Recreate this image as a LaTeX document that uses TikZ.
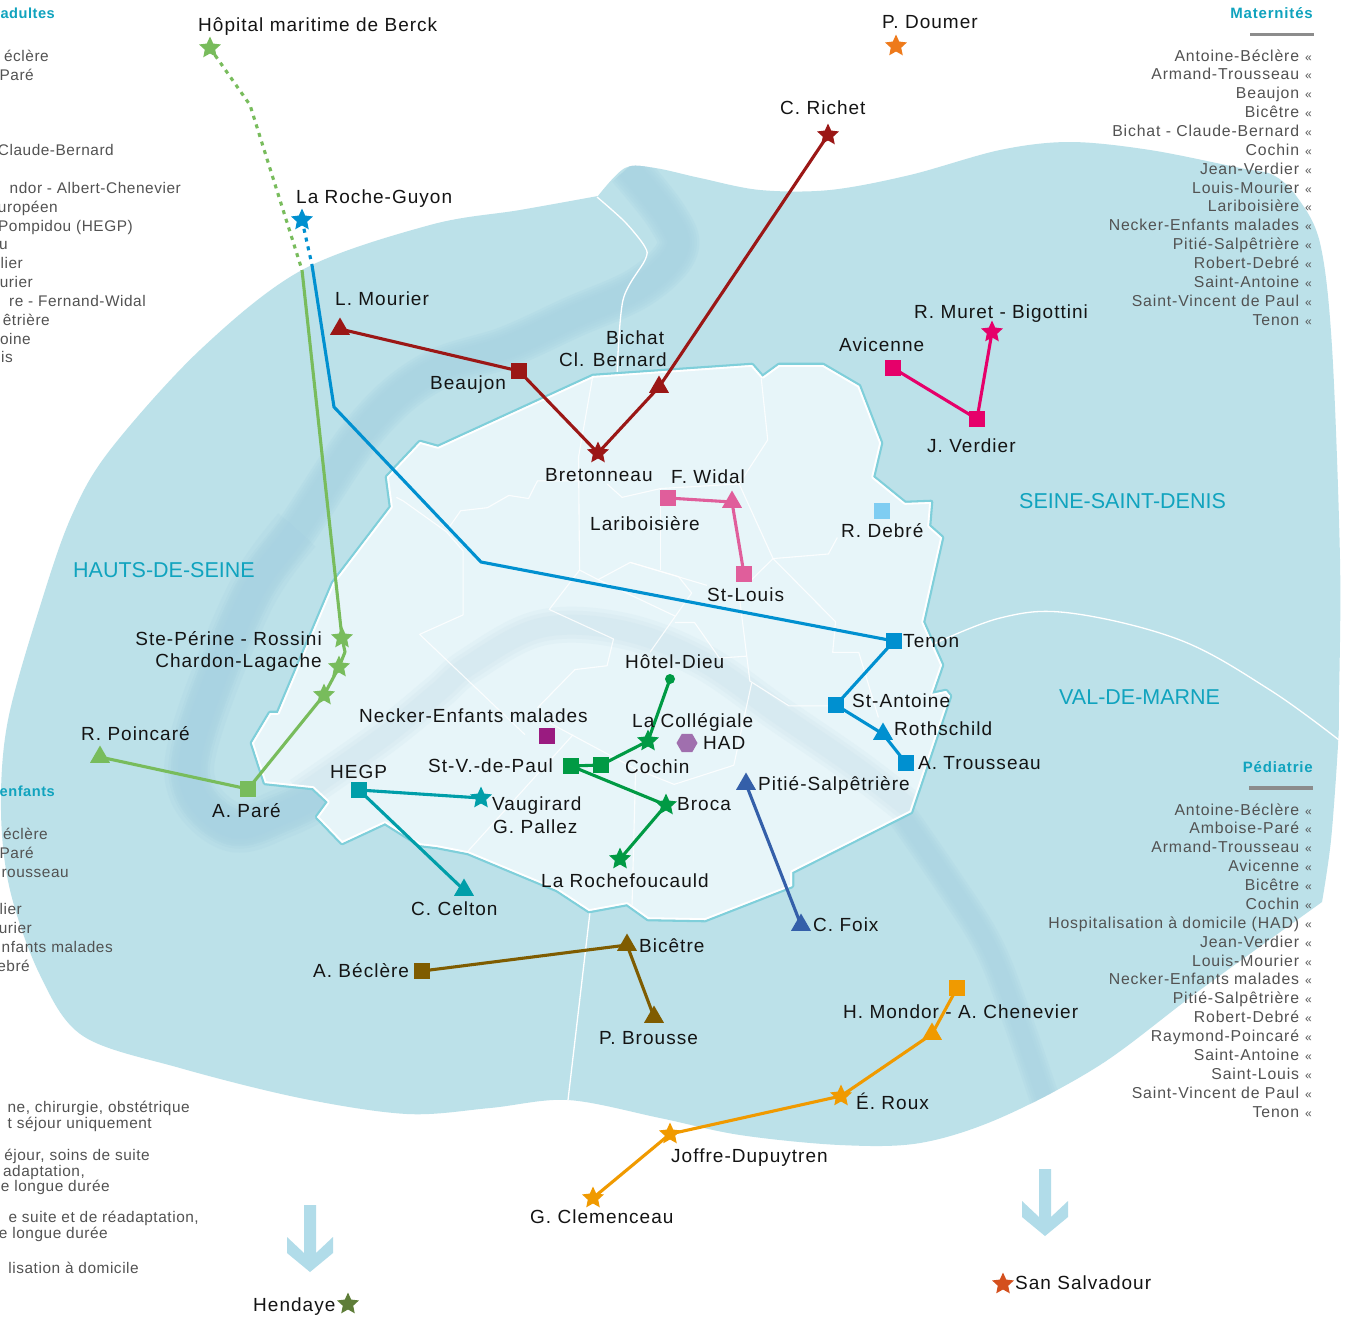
\documentclass[tikz,border=0pt]{standalone}
\usepackage{fontspec}
\usetikzlibrary{shapes.geometric}
\setmainfont{Liberation Sans}
\newfontfamily\lblfam[LetterSpace=5.4]{Liberation Sans}
\newfontfamily\lstfam[LetterSpace=5.5]{Liberation Sans}
\newfontfamily\lsfam[LetterSpace=3.6]{Liberation Sans}
\newfontfamily\depfam{Liberation Sans}
\definecolor{land}{HTML}{BCE1E9}
\definecolor{riverc}{HTML}{A9D3E2}
\definecolor{riverp}{HTML}{BCD8E6}
\definecolor{parisc}{HTML}{E7F5F9}
\definecolor{parisb}{HTML}{7FCFDA}
\definecolor{teal1}{HTML}{10A3BE}
\definecolor{cGreen}{HTML}{78BC5C}
\definecolor{cBlue}{HTML}{0090D0}
\definecolor{cRed}{HTML}{9B1716}
\definecolor{cOrange}{HTML}{EE7A1B}
\definecolor{cPink}{HTML}{E6006A}
\definecolor{cRose}{HTML}{E05E9B}
\definecolor{cSky}{HTML}{7FCDF2}
\definecolor{cForest}{HTML}{009A44}
\definecolor{cPurple}{HTML}{9A1B80}
\definecolor{cMauve}{HTML}{A06FAE}
\definecolor{cTeal}{HTML}{009EA9}
\definecolor{cNavy}{HTML}{345FA9}
\definecolor{cBrown}{HTML}{7F5C00}
\definecolor{cAmber}{HTML}{F09A00}
\definecolor{cRust}{HTML}{D4501E}
\definecolor{cOlive}{HTML}{5E7D38}
\definecolor{arrowc}{HTML}{B1DCE9}
\tikzset{
  sq/.style={rectangle,fill=#1,draw=none,minimum size=16pt,inner sep=0pt},
  tri/.style={regular polygon,regular polygon sides=3,fill=#1,draw=none,minimum size=23pt,inner sep=0pt},
  st/.style={star,star points=5,star point ratio=2.1,fill=#1,draw=none,minimum size=23pt,inner sep=0pt},
  hexa/.style={regular polygon,regular polygon sides=6,fill=#1,draw=none,minimum size=21pt,inner sep=0pt},
  dot/.style={circle,fill=#1,draw=none,minimum size=10pt,inner sep=0pt},
  lbl/.style={anchor=base west,inner sep=0pt,text=black!92,font=\lblfam\fontsize{19}{21}\selectfont},
  lblr/.style={lbl,anchor=base east},
  dept/.style={anchor=base west,inner sep=0pt,text=teal1,font=\depfam\fontsize{21.5}{24}\selectfont},
  head/.style={anchor=base east,inner sep=0pt,text=teal1,font=\lstfam\bfseries\fontsize{15}{16}\selectfont},
  headl/.style={anchor=base east,inner sep=0pt,text=teal1,font=\lsfam\bfseries\fontsize{14.6}{16}\selectfont},
  lst/.style={anchor=base east,inner sep=0pt,text=black!68,font=\lstfam\fontsize{15.8}{17}\selectfont},
  lstl/.style={anchor=base east,inner sep=0pt,text=black!68,font=\lsfam\fontsize{15.4}{17}\selectfont},
  link/.style={line width=3.1pt,color=#1,line join=round},
  white line/.style={line width=1.3pt,color=white,line join=round},
  inner line/.style={line width=1.1pt,color=white,line join=round,opacity=.85},
  bar/.style={fill=black!45,draw=none},
}
\newcommand{\laquo}{{\fontsize{12}{12}\selectfont «}}
\def\regionpath{
  plot[smooth,tension=.55] coordinates {(598,196)(625,168)(655,168)(700,178)(760,190)(830,190)(910,175)(1000,150)(1070,142)(1150,150)(1240,168)(1273,175)(1297,197)(1320,243)(1332,347)(1340,560)(1339,700)(1338,745)(1331,840)(1322,902)}
  -- plot[smooth,tension=.55] coordinates {(1322,902)(1200,990)(1100,1065)(1000,1118)(920,1143)(840,1145)(740,1135)(660,1118)(568,1100)(490,1108)(407,1114)(300,1098)(180,1068)(83,1036)(40,975)(10,890)(1,810)(8,720)(42,600)(72,515)(110,450)(200,350)(302,270)(430,225)(520,210)(598,196)}
  -- cycle}
\def\parispath{
  (593,376)--(752,365)--(762.5,377)--(779,365)--(823,365)--(859,386)--(881,443)--(873,477)--(905,503)--(931,502)--(929,526)--(942,537.5)--(923,622)--(942,665)--(932,694)--(946,691)--(950,696)--(911,812)--(792,872)--(792,886)--(705,920)--(648,919)--(627,904)--(589,911)--(557,890)--(468,853)--(437,847)--(420,845)--(385,823)--(342,843)--(317,817)--(328,802)--(313,788)--(265,783)--(252,743)--(270,713)--(278,713)--(333,583)--(391,507)--(387,477)--(420,442)--(438,447)--cycle}
\begin{document}
\begin{tikzpicture}[x=1pt,y=-1pt]
\useasboundingbox (0,0) rectangle (1351,1320);
\clip (0,0) rectangle (1351,1320);
\fill[white] (0,0) rectangle (1351,1320);
% land
\fill[land] \regionpath;
% river outside Paris
\begin{scope}
\clip \regionpath;
\foreach \w in {42,37,32,27,22}{
\draw[riverc,opacity=.28,line width=\w pt,line join=round] plot[smooth,tension=.6] coordinates {(628,168)(667,217)(677,250)(640,287)(573,317)(507,347)(430,373)(367,427)(297,530)(250,597)(197,730)(193,790)(233,827)(283,813)(330,790)};
}
\foreach \w in {50,36}{
\draw[riverc,opacity=.22,line width=\w pt,line join=round] plot[smooth,tension=.6] coordinates {(297,530)(250,597)(197,730)(193,790)(233,827)(283,813)(330,790)};
}
\foreach \w in {30,25,20,15}{
\draw[riverc,opacity=.25,line width=\w pt] plot[smooth,tension=.6] coordinates {(895,805)(947,880)(987,943)(1013,1007)(1045,1100)};
}
\end{scope}
% commune boundaries outside Paris
\draw[white line] plot[smooth,tension=.5] coordinates {(597,197)(625,222)(645,247)(645,260)(623,300)(617,376)};
\draw[white line] plot[smooth,tension=.6] coordinates {(925,648)(1000,618)(1070,613)(1180,640)(1270,690)(1339,740)};
\draw[white line] (590,912)--(568,1100);
% Paris
\draw[line width=4.6pt,parisb,line join=round] \parispath;
\fill[parisc] \parispath;
\begin{scope}
\clip \parispath;
\foreach \w in {36,28,20}{
\draw[riverp,opacity=.13,line width=\w pt,line join=round] plot[smooth,tension=.6] coordinates {(300,795)(383,737)(437,693)(470,665)(540,628)(620,630)(700,660)(780,715)(860,770)(930,825)};
}
\end{scope}
% arrondissements
\begin{scope}[shift={(400,350)},x=0.357pt,y=-0.3827pt]
\draw[inner line] (540,68)--(500,280)--(503,575)--(555,600)--(645,555)--(780,592)--(817,635)--(700,790);
\draw[inner line] (503,575)--(418,678)--(598,755)--(580,825)--(490,835)--(385,935);
\draw[inner line] (555,600)--(770,695);
\draw[inner line] (770,712)--(825,712)--(895,805)--(970,800);
\draw[inner line] (645,555)--(860,615);
\draw[inner line] (950,640)--(980,865)--(1090,930)--(1200,930);
\draw[inner line] (985,870)--(935,1085)--(768,1135)--(660,1095)--(420,975);
\draw[inner line] (660,1095)--(650,1450);
\draw[inner line] (-10,385)--(10,395)--(130,475)--(177,525)--(177,692)--(55,743)--(350,1005);
\draw[inner line] (485,1005)--(190,1310);
\draw[inner line] (140,460)--(170,420)--(245,412)--(305,380)--(360,388)--(385,342)--(500,342);
\draw[inner line] (580,350)--(622,385)--(730,362)--(950,350);
\draw[inner line] (730,362)--(730,575);
\draw[inner line] (950,350)--(1030,235)--(1012,75);
\draw[inner line] (950,350)--(1045,545)--(1220,710)--(1212,790)--(1285,790)--(1340,960);
\draw[inner line] (1045,545)--(1200,533)--(1225,490);
\draw[inner line] (1045,545)--(985,600);
\end{scope}
\begin{scope}
\clip \parispath;
\draw[line width=3.6pt,white,line join=round] \parispath;
\end{scope}
% big down arrows
\foreach \n/\dx/\dy in {arrA/0/0,arrB/735/-36}{
\fill[arrowc,shift={(\dx,\dy)}] (304,1205)--(316,1205)--(316,1253)--(333,1237)--(333,1253)--(310,1272)--(287,1253)--(287,1237)--(304,1253)--cycle;
}
% department labels
\node[dept] (dSSD) at (1019,508) {SEINE-SAINT-DENIS};
\node[dept] (dHDS) at (73,577) {HAUTS-DE-SEINE};
\node[dept] (dVDM) at (1059,704) {VAL-DE-MARNE};
% markers
\node[st=cGreen] (berck) at (210,48) {};
\coordinate (gA) at (250,105);
\coordinate (gB) at (302,270);
\node[st=cGreen] (perine) at (342,638) {};
\coordinate (gC) at (345,652);
\node[st=cGreen] (chardon) at (339,667) {};
\node[st=cGreen] (gstar) at (324,695) {};
\node[sq=cGreen] (pare) at (248,789) {};
\node[tri=cGreen] (poincare) at (100,757) {};
\node[st=cBlue] (roche) at (302,220) {};
\coordinate (bA) at (312,265);
\coordinate (bB) at (334,407);
\coordinate (bC) at (481,562);
\node[sq=cBlue] (tenon) at (894,641) {};
\node[sq=cBlue] (antoine) at (836,705) {};
\node[tri=cBlue] (rothschild) at (883,734) {};
\node[sq=cBlue] (trousseau) at (906,763) {};
\node[tri=cRed] (mourier) at (340,329) {};
\node[sq=cRed] (beaujon) at (519,371) {};
\node[st=cRed] (bretonneau) at (598,453) {};
\node[tri=cRed] (bernard) at (659,387) {};
\node[st=cRed] (richet) at (828,135) {};
\node[st=cOrange] (doumer) at (896,46) {};
\node[sq=cPink] (avicenne) at (893,368) {};
\node[sq=cPink] (verdier) at (977,419) {};
\node[st=cPink] (muret) at (992,332) {};
\node[sq=cRose] (lariboisiere) at (668,498) {};
\node[tri=cRose] (widal) at (732,502) {};
\node[sq=cRose] (stlouis) at (744,574) {};
\node[sq=cSky] (debre) at (882,511) {};
\node[dot=cForest] (hoteldieu) at (670,679) {};
\node[st=cForest] (collegiale) at (648,741) {};
\node[sq=cForest] (cochin) at (601,765) {};
\node[sq=cForest] (stv) at (571,766) {};
\node[st=cForest] (broca) at (666,805) {};
\node[st=cForest] (rochefoucauld) at (620,859) {};
\node[sq=cPurple] (necker) at (547,736) {};
\node[hexa=cMauve] (had) at (687,743) {};
\node[sq=cTeal] (hegp) at (359,790) {};
\node[st=cTeal] (vaugirard) at (481,798) {};
\node[tri=cTeal] (celton) at (464,890) {};
\node[tri=cNavy] (pitie) at (746,784) {};
\node[tri=cNavy] (foix) at (801,925) {};
\node[sq=cBrown] (beclere) at (422,971) {};
\node[tri=cBrown] (bicetre) at (627,945) {};
\node[tri=cBrown] (brousse) at (654,1017) {};
\node[sq=cAmber] (chenevier) at (957,988) {};
\node[tri=cAmber] (mondor) at (932,1034) {};
\node[st=cAmber] (roux) at (841,1096) {};
\node[st=cAmber] (joffre) at (670,1134) {};
\node[st=cAmber] (clemenceau) at (593,1198) {};
\node[st=cRust] (salvadour) at (1003,1284) {};
\node[st=cOlive] (hendaye) at (348,1304) {};
% connectors
\draw[link=cGreen,dash pattern=on 4pt off 5pt] (berck.center)--(gA)--(gB);
\draw[link=cGreen] (gB)--(perine.center)--(gC)--(chardon.center)--(gstar.center)--(pare.center)--(poincare.center);
\draw[link=cBlue,dash pattern=on 4pt off 5pt] (roche.center)--(bA);
\draw[link=cBlue] (bA)--(bB)--(bC)--(tenon.center)--(antoine.center)--(rothschild.center)--(trousseau.center);
\draw[link=cRed] (mourier.center)--(beaujon.center)--(bretonneau.center)--(bernard.center)--(richet.center);
\draw[link=cPink] (avicenne.center)--(verdier.center)--(muret.center);
\draw[link=cRose] (lariboisiere.center)--(widal.center)--(stlouis.center);
\draw[link=cForest] (hoteldieu.center)--(collegiale.center)--(cochin.center)--(stv.center)--(broca.center)--(rochefoucauld.center);
\draw[link=cTeal] (vaugirard.center)--(hegp.center)--(celton.center);
\draw[link=cNavy] (pitie.center)--(foix.center);
\draw[link=cBrown] (beclere.center)--(bicetre.center)--(brousse.center);
\draw[link=cAmber] (chenevier.center)--(mondor.center)--(roux.center)--(joffre.center)--(clemenceau.center);
% labels
\node[lbl] (lBerck) at (198,31) {Hôpital maritime de Berck};
\node[lbl] (lDoumer) at (882,28) {P. Doumer};
\node[lbl] (lRichet) at (780,114) {C. Richet};
\node[lbl] (lRoche) at (296,203) {La Roche-Guyon};
\node[lbl] (lMourier) at (335,305) {L. Mourier};
\node[lbl] (lMuret) at (914,318) {R. Muret - Bigottini};
\node[lbl] (lAvicenne) at (839,351) {Avicenne};
\node[lbl] (lBichat) at (606,344) {Bichat};
\node[lbl] (lBernard) at (559,366) {Cl. Bernard};
\node[lbl] (lBeaujon) at (430,389) {Beaujon};
\node[lbl] (lVerdier) at (927,452) {J. Verdier};
\node[lbl] (lBretonneau) at (545,481) {Bretonneau};
\node[lbl] (lWidal) at (671,483) {F. Widal};
\node[lbl] (lLariboisiere) at (590,530) {Lariboisière};
\node[lbl] (lDebre) at (841,537) {R. Debré};
\node[lbl] (lStLouis) at (707,601) {St-Louis};
\node[lblr] (lPerine) at (322,645) {Ste-Périne - Rossini};
\node[lblr] (lChardon) at (322,667) {Chardon-Lagache};
\node[lbl] (lTenon) at (903,647) {Tenon};
\node[lbl] (lHotel) at (625,668) {Hôtel-Dieu};
\node[lbl] (lAntoine) at (852,707) {St-Antoine};
\node[lbl] (lNecker) at (359,722) {Necker-Enfants malades};
\node[lbl] (lCollegiale) at (632,727) {La Collégiale};
\node[lbl] (lRothschild) at (894,735) {Rothschild};
\node[lbl] (lPoincare) at (81,740) {R. Poincaré};
\node[lbl] (lHad) at (703,749) {HAD};
\node[lbl] (lTrousseau) at (918,769) {A. Trousseau};
\node[lbl] (lStv) at (428,772) {St-V.-de-Paul};
\node[lbl] (lCochin) at (625,773) {Cochin};
\node[lbl] (lHegp) at (330,778) {HEGP};
\node[lbl] (lPitie) at (758,790) {Pitié-Salpêtrière};
\node[lbl] (lPare) at (212,817) {A. Paré};
\node[lbl] (lVaugirard) at (492,810) {Vaugirard};
\node[lbl] (lBroca) at (677,810) {Broca};
\node[lbl] (lPallez) at (493,833) {G. Pallez};
\node[lbl] (lRochefoucauld) at (541,887) {La Rochefoucauld};
\node[lbl] (lCelton) at (411,915) {C. Celton};
\node[lbl] (lFoix) at (813,931) {C. Foix};
\node[lbl] (lBicetre) at (639,952) {Bicêtre};
\node[lbl] (lBeclere) at (313,977) {A. Béclère};
\node[lbl] (lMondor) at (843,1018) {H. Mondor - A. Chenevier};
\node[lbl] (lBrousse) at (599,1044) {P. Brousse};
\node[lbl] (lRoux) at (856,1109) {É. Roux};
\node[lbl] (lJoffre) at (671,1162) {Joffre-Dupuytren};
\node[lbl] (lClemenceau) at (530,1223) {G. Clemenceau};
\node[lbl] (lSalvadour) at (1015,1289) {San Salvadour};
\node[lbl] (lHendaye) at (253,1311) {Hendaye};
% right lists
\node[head] (hMat) at (1313,18) {Maternités};
\fill[bar] (1250,32.5) rectangle (1314,36);
\foreach \t [count=\i from 0] in {Antoine-Béclère,Armand-Trousseau,Beaujon,Bicêtre,Bichat - Claude-Bernard,Cochin,Jean-Verdier,Louis-Mourier,Lariboisière,Necker-Enfants malades,Pitié-Salpêtrière,Robert-Debré,Saint-Antoine,Saint-Vincent de Paul,Tenon}{
  \node[lst] (mat\i) at (1312,61+18.86*\i) {\t\hspace{6pt}\laquo};
}
\node[head] (hPed) at (1313,772) {Pédiatrie};
\fill[bar] (1249,786) rectangle (1313,790);
\foreach \t [count=\i from 0] in {Antoine-Béclère,Amboise-Paré,Armand-Trousseau,Avicenne,Bicêtre,Cochin,Hospitalisation à domicile (HAD),Jean-Verdier,Louis-Mourier,Necker-Enfants malades,Pitié-Salpêtrière,Robert-Debré,Raymond-Poincaré,Saint-Antoine,Saint-Louis,Saint-Vincent de Paul,Tenon}{
  \node[lst] (ped\i) at (1312,815+18.88*\i) {\t\hspace{6pt}\laquo};
}
% left lists (cropped by the page edge)
\node[headl] (hAd) at (55,18) {adultes};
\node[lstl] (la1) at (49,61) {éclère};
\node[lstl] (la2) at (34,80) {Paré};
\node[lstl] (la3) at (114,155) {Claude-Bernard};
\node[lstl] (la4) at (181,193) {ndor - Albert-Chenevier};
\node[lstl] (la5) at (58,212) {uropéen};
\node[lstl] (la6) at (133,231) {Pompidou (HEGP)};
\node[lstl] (la7) at (8,249) {u};
\node[lstl] (la8) at (23,268) {lier};
\node[lstl] (la9) at (33,287) {urier};
\node[lstl] (la10) at (146,306) {re - Fernand-Widal};
\node[lstl] (la11) at (50,325) {êtrière};
\node[lstl] (la12) at (31,344) {oine};
\node[lstl] (la13) at (13,362) {is};
\node[headl] (hEnf) at (55,796) {enfants};
\node[lstl] (le1) at (48,839) {éclère};
\node[lstl] (le2) at (34,858) {Paré};
\node[lstl] (le3) at (69,877) {rousseau};
\node[lstl] (le4) at (22,914) {lier};
\node[lstl] (le5) at (32,933) {urier};
\node[lstl] (le6) at (113,952) {nfants malades};
\node[lstl] (le7) at (30,971) {ebré};
\node[lstl] (lg1) at (190,1112) {ne, chirurgie, obstétrique};
\node[lstl] (lg2) at (152,1128) {t séjour uniquement};
\node[lstl] (lg3) at (150,1160) {éjour, soins de suite};
\node[lstl] (lg4) at (85,1176) {adaptation,};
\node[lstl] (lg5) at (110,1191) {e longue durée};
\node[lstl] (lg6) at (199,1222) {e suite et de réadaptation,};
\node[lstl] (lg7) at (108,1238) {e longue durée};
\node[lstl] (lg8) at (139,1273) {lisation à domicile};
\end{tikzpicture}
\end{document}
